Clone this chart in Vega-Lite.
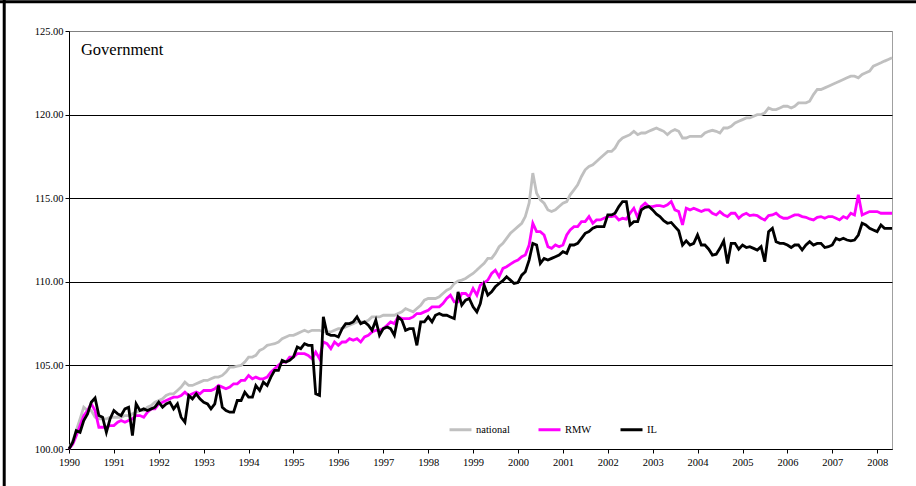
{
"$schema": "https://vega.github.io/schema/vega-lite/v6.json",
"width": 823, "height": 418,
"autosize": {"type": "none"},
"padding": {"left": 69, "top": 31, "right": 24, "bottom": 37},
"background": "white",
"config": {"font": "Liberation Serif, Times New Roman, serif", "view": {"stroke": "#A0A0A0", "strokeWidth": 1}},
"layer": [
{"data": {"values": [{}]},
 "mark": {"type": "rule", "color": "#000", "strokeWidth": 3},
 "encoding": {
  "x": {"datum": {"year": 1988, "month": 7, "date": 23, "utc": true}, "type": "temporal", "scale": {"type": "utc", "domain": [{"year": 1990, "month": 1, "date": 1, "utc": true}, {"year": 2008, "month": 5, "date": 1, "utc": true}]}},
  "y": {"datum": 130, "type": "quantitative", "scale": {"domain": [100, 125], "nice": false, "zero": false}},
  "y2": {"datum": 95}}},
{"data": {"values": [{}]},
 "mark": {"type": "rule", "color": "#000", "strokeWidth": 3},
 "encoding": {
  "x": {"datum": {"year": 1985, "month": 1, "date": 1, "utc": true}, "type": "temporal"},
  "x2": {"datum": {"year": 2012, "month": 1, "date": 1, "utc": true}},
  "y": {"datum": 126.75, "type": "quantitative"}}},
{"data": {"values": [
{"date":"1990-01","series":"national","value":100},{"date":"1990-02","series":"national","value":100.5},{"date":"1990-03","series":"national","value":101.1},{"date":"1990-04","series":"national","value":101.8},{"date":"1990-05","series":"national","value":102.5},{"date":"1990-06","series":"national","value":102.3},{"date":"1990-07","series":"national","value":102.3},{"date":"1990-08","series":"national","value":101.9},{"date":"1990-09","series":"national","value":101.8},{"date":"1990-10","series":"national","value":101.8},{"date":"1990-11","series":"national","value":101.8},{"date":"1990-12","series":"national","value":101.9},
{"date":"1991-01","series":"national","value":101.9},{"date":"1991-02","series":"national","value":101.9},{"date":"1991-03","series":"national","value":101.9},{"date":"1991-04","series":"national","value":102.0},{"date":"1991-05","series":"national","value":102.0},{"date":"1991-06","series":"national","value":102.1},{"date":"1991-07","series":"national","value":102.2},{"date":"1991-08","series":"national","value":102.3},{"date":"1991-09","series":"national","value":102.3},{"date":"1991-10","series":"national","value":102.5},{"date":"1991-11","series":"national","value":102.6},{"date":"1991-12","series":"national","value":102.8},
{"date":"1992-01","series":"national","value":102.9},{"date":"1992-02","series":"national","value":103.0},{"date":"1992-03","series":"national","value":103.2},{"date":"1992-04","series":"national","value":103.3},{"date":"1992-05","series":"national","value":103.3},{"date":"1992-06","series":"national","value":103.5},{"date":"1992-07","series":"national","value":103.7},{"date":"1992-08","series":"national","value":104.0},{"date":"1992-09","series":"national","value":103.8},{"date":"1992-10","series":"national","value":103.8},{"date":"1992-11","series":"national","value":103.9},{"date":"1992-12","series":"national","value":104.0},
{"date":"1993-01","series":"national","value":104.1},{"date":"1993-02","series":"national","value":104.1},{"date":"1993-03","series":"national","value":104.2},{"date":"1993-04","series":"national","value":104.3},{"date":"1993-05","series":"national","value":104.3},{"date":"1993-06","series":"national","value":104.4},{"date":"1993-07","series":"national","value":104.6},{"date":"1993-08","series":"national","value":104.9},{"date":"1993-09","series":"national","value":104.9},{"date":"1993-10","series":"national","value":104.95},{"date":"1993-11","series":"national","value":105.0},{"date":"1993-12","series":"national","value":105.2},
{"date":"1994-01","series":"national","value":105.5},{"date":"1994-02","series":"national","value":105.5},{"date":"1994-03","series":"national","value":105.6},{"date":"1994-04","series":"national","value":105.9},{"date":"1994-05","series":"national","value":106.0},{"date":"1994-06","series":"national","value":106.2},{"date":"1994-07","series":"national","value":106.25},{"date":"1994-08","series":"national","value":106.3},{"date":"1994-09","series":"national","value":106.4},{"date":"1994-10","series":"national","value":106.6},{"date":"1994-11","series":"national","value":106.7},{"date":"1994-12","series":"national","value":106.8},
{"date":"1995-01","series":"national","value":106.8},{"date":"1995-02","series":"national","value":106.9},{"date":"1995-03","series":"national","value":107.0},{"date":"1995-04","series":"national","value":107.1},{"date":"1995-05","series":"national","value":107.0},{"date":"1995-06","series":"national","value":107.1},{"date":"1995-07","series":"national","value":107.1},{"date":"1995-08","series":"national","value":107.1},{"date":"1995-09","series":"national","value":107.0},{"date":"1995-10","series":"national","value":107.0},{"date":"1995-11","series":"national","value":107.0},{"date":"1995-12","series":"national","value":107.1},
{"date":"1996-01","series":"national","value":107.2},{"date":"1996-02","series":"national","value":107.2},{"date":"1996-03","series":"national","value":107.3},{"date":"1996-04","series":"national","value":107.4},{"date":"1996-05","series":"national","value":107.5},{"date":"1996-06","series":"national","value":107.6},{"date":"1996-07","series":"national","value":107.6},{"date":"1996-08","series":"national","value":107.6},{"date":"1996-09","series":"national","value":107.7},{"date":"1996-10","series":"national","value":107.9},{"date":"1996-11","series":"national","value":107.9},{"date":"1996-12","series":"national","value":107.9},
{"date":"1997-01","series":"national","value":108.0},{"date":"1997-02","series":"national","value":108.0},{"date":"1997-03","series":"national","value":108.0},{"date":"1997-04","series":"national","value":108.0},{"date":"1997-05","series":"national","value":108.1},{"date":"1997-06","series":"national","value":108.2},{"date":"1997-07","series":"national","value":108.4},{"date":"1997-08","series":"national","value":108.3},{"date":"1997-09","series":"national","value":108.2},{"date":"1997-10","series":"national","value":108.4},{"date":"1997-11","series":"national","value":108.6},{"date":"1997-12","series":"national","value":108.9},
{"date":"1998-01","series":"national","value":109.0},{"date":"1998-02","series":"national","value":109.0},{"date":"1998-03","series":"national","value":109.0},{"date":"1998-04","series":"national","value":109.1},{"date":"1998-05","series":"national","value":109.3},{"date":"1998-06","series":"national","value":109.5},{"date":"1998-07","series":"national","value":109.6},{"date":"1998-08","series":"national","value":109.9},{"date":"1998-09","series":"national","value":110.05},{"date":"1998-10","series":"national","value":110.1},{"date":"1998-11","series":"national","value":110.2},{"date":"1998-12","series":"national","value":110.35},
{"date":"1999-01","series":"national","value":110.5},{"date":"1999-02","series":"national","value":110.7},{"date":"1999-03","series":"national","value":110.9},{"date":"1999-04","series":"national","value":111.1},{"date":"1999-05","series":"national","value":111.4},{"date":"1999-06","series":"national","value":111.4},{"date":"1999-07","series":"national","value":111.7},{"date":"1999-08","series":"national","value":112.1},{"date":"1999-09","series":"national","value":112.3},{"date":"1999-10","series":"national","value":112.6},{"date":"1999-11","series":"national","value":112.9},{"date":"1999-12","series":"national","value":113.1},
{"date":"2000-01","series":"national","value":113.3},{"date":"2000-02","series":"national","value":113.5},{"date":"2000-03","series":"national","value":113.9},{"date":"2000-04","series":"national","value":114.7},{"date":"2000-05","series":"national","value":116.5},{"date":"2000-06","series":"national","value":115.3},{"date":"2000-07","series":"national","value":114.9},{"date":"2000-08","series":"national","value":114.7},{"date":"2000-09","series":"national","value":114.3},{"date":"2000-10","series":"national","value":114.2},{"date":"2000-11","series":"national","value":114.3},{"date":"2000-12","series":"national","value":114.5},
{"date":"2001-01","series":"national","value":114.7},{"date":"2001-02","series":"national","value":114.8},{"date":"2001-03","series":"national","value":115.2},{"date":"2001-04","series":"national","value":115.5},{"date":"2001-05","series":"national","value":115.8},{"date":"2001-06","series":"national","value":116.3},{"date":"2001-07","series":"national","value":116.7},{"date":"2001-08","series":"national","value":116.9},{"date":"2001-09","series":"national","value":117.0},{"date":"2001-10","series":"national","value":117.2},{"date":"2001-11","series":"national","value":117.4},{"date":"2001-12","series":"national","value":117.6},
{"date":"2002-01","series":"national","value":117.8},{"date":"2002-02","series":"national","value":117.8},{"date":"2002-03","series":"national","value":118.0},{"date":"2002-04","series":"national","value":118.4},{"date":"2002-05","series":"national","value":118.6},{"date":"2002-06","series":"national","value":118.7},{"date":"2002-07","series":"national","value":118.8},{"date":"2002-08","series":"national","value":119.0},{"date":"2002-09","series":"national","value":118.8},{"date":"2002-10","series":"national","value":118.9},{"date":"2002-11","series":"national","value":118.9},{"date":"2002-12","series":"national","value":119.0},
{"date":"2003-01","series":"national","value":119.1},{"date":"2003-02","series":"national","value":119.2},{"date":"2003-03","series":"national","value":119.1},{"date":"2003-04","series":"national","value":119.0},{"date":"2003-05","series":"national","value":118.8},{"date":"2003-06","series":"national","value":119.0},{"date":"2003-07","series":"national","value":119.1},{"date":"2003-08","series":"national","value":119.0},{"date":"2003-09","series":"national","value":118.6},{"date":"2003-10","series":"national","value":118.6},{"date":"2003-11","series":"national","value":118.7},{"date":"2003-12","series":"national","value":118.7},
{"date":"2004-01","series":"national","value":118.7},{"date":"2004-02","series":"national","value":118.7},{"date":"2004-03","series":"national","value":118.9},{"date":"2004-04","series":"national","value":119.0},{"date":"2004-05","series":"national","value":119.06},{"date":"2004-06","series":"national","value":119.0},{"date":"2004-07","series":"national","value":118.9},{"date":"2004-08","series":"national","value":119.2},{"date":"2004-09","series":"national","value":119.2},{"date":"2004-10","series":"national","value":119.3},{"date":"2004-11","series":"national","value":119.5},{"date":"2004-12","series":"national","value":119.6},
{"date":"2005-01","series":"national","value":119.7},{"date":"2005-02","series":"national","value":119.8},{"date":"2005-03","series":"national","value":119.8},{"date":"2005-04","series":"national","value":119.9},{"date":"2005-05","series":"national","value":120.0},{"date":"2005-06","series":"national","value":120.0},{"date":"2005-07","series":"national","value":120.1},{"date":"2005-08","series":"national","value":120.4},{"date":"2005-09","series":"national","value":120.3},{"date":"2005-10","series":"national","value":120.3},{"date":"2005-11","series":"national","value":120.4},{"date":"2005-12","series":"national","value":120.5},
{"date":"2006-01","series":"national","value":120.5},{"date":"2006-02","series":"national","value":120.4},{"date":"2006-03","series":"national","value":120.5},{"date":"2006-04","series":"national","value":120.7},{"date":"2006-05","series":"national","value":120.7},{"date":"2006-06","series":"national","value":120.7},{"date":"2006-07","series":"national","value":120.8},{"date":"2006-08","series":"national","value":121.2},{"date":"2006-09","series":"national","value":121.5},{"date":"2006-10","series":"national","value":121.5},{"date":"2006-11","series":"national","value":121.6},{"date":"2006-12","series":"national","value":121.7},
{"date":"2007-01","series":"national","value":121.8},{"date":"2007-02","series":"national","value":121.9},{"date":"2007-03","series":"national","value":122.0},{"date":"2007-04","series":"national","value":122.1},{"date":"2007-05","series":"national","value":122.2},{"date":"2007-06","series":"national","value":122.3},{"date":"2007-07","series":"national","value":122.3},{"date":"2007-08","series":"national","value":122.2},{"date":"2007-09","series":"national","value":122.4},{"date":"2007-10","series":"national","value":122.5},{"date":"2007-11","series":"national","value":122.6},{"date":"2007-12","series":"national","value":122.9},
{"date":"2008-01","series":"national","value":123.0},{"date":"2008-02","series":"national","value":123.1},{"date":"2008-03","series":"national","value":123.2},{"date":"2008-04","series":"national","value":123.3},{"date":"2008-05","series":"national","value":123.4},
{"date":"1990-01","series":"RMW","value":100},{"date":"1990-02","series":"RMW","value":100.3},{"date":"1990-03","series":"RMW","value":100.8},{"date":"1990-04","series":"RMW","value":101.4},{"date":"1990-05","series":"RMW","value":102.0},{"date":"1990-06","series":"RMW","value":102.3},{"date":"1990-07","series":"RMW","value":102.7},{"date":"1990-08","series":"RMW","value":102.3},{"date":"1990-09","series":"RMW","value":101.3},{"date":"1990-10","series":"RMW","value":101.3},{"date":"1990-11","series":"RMW","value":101.3},{"date":"1990-12","series":"RMW","value":101.4},
{"date":"1991-01","series":"RMW","value":101.4},{"date":"1991-02","series":"RMW","value":101.6},{"date":"1991-03","series":"RMW","value":101.7},{"date":"1991-04","series":"RMW","value":101.6},{"date":"1991-05","series":"RMW","value":101.7},{"date":"1991-06","series":"RMW","value":101.8},{"date":"1991-07","series":"RMW","value":102.0},{"date":"1991-08","series":"RMW","value":102.0},{"date":"1991-09","series":"RMW","value":101.9},{"date":"1991-10","series":"RMW","value":102.2},{"date":"1991-11","series":"RMW","value":102.4},{"date":"1991-12","series":"RMW","value":102.4},
{"date":"1992-01","series":"RMW","value":102.7},{"date":"1992-02","series":"RMW","value":102.8},{"date":"1992-03","series":"RMW","value":102.9},{"date":"1992-04","series":"RMW","value":103.0},{"date":"1992-05","series":"RMW","value":103.1},{"date":"1992-06","series":"RMW","value":103.1},{"date":"1992-07","series":"RMW","value":103.2},{"date":"1992-08","series":"RMW","value":103.4},{"date":"1992-09","series":"RMW","value":103.2},{"date":"1992-10","series":"RMW","value":103.3},{"date":"1992-11","series":"RMW","value":103.4},{"date":"1992-12","series":"RMW","value":103.3},
{"date":"1993-01","series":"RMW","value":103.5},{"date":"1993-02","series":"RMW","value":103.5},{"date":"1993-03","series":"RMW","value":103.5},{"date":"1993-04","series":"RMW","value":103.6},{"date":"1993-05","series":"RMW","value":103.8},{"date":"1993-06","series":"RMW","value":103.7},{"date":"1993-07","series":"RMW","value":103.6},{"date":"1993-08","series":"RMW","value":103.7},{"date":"1993-09","series":"RMW","value":103.9},{"date":"1993-10","series":"RMW","value":103.9},{"date":"1993-11","series":"RMW","value":104.1},{"date":"1993-12","series":"RMW","value":104.1},
{"date":"1994-01","series":"RMW","value":104.4},{"date":"1994-02","series":"RMW","value":104.2},{"date":"1994-03","series":"RMW","value":104.3},{"date":"1994-04","series":"RMW","value":104.2},{"date":"1994-05","series":"RMW","value":104.2},{"date":"1994-06","series":"RMW","value":104.3},{"date":"1994-07","series":"RMW","value":104.6},{"date":"1994-08","series":"RMW","value":104.8},{"date":"1994-09","series":"RMW","value":105.0},{"date":"1994-10","series":"RMW","value":105.2},{"date":"1994-11","series":"RMW","value":105.2},{"date":"1994-12","series":"RMW","value":105.5},
{"date":"1995-01","series":"RMW","value":105.5},{"date":"1995-02","series":"RMW","value":105.7},{"date":"1995-03","series":"RMW","value":105.7},{"date":"1995-04","series":"RMW","value":105.7},{"date":"1995-05","series":"RMW","value":105.6},{"date":"1995-06","series":"RMW","value":105.4},{"date":"1995-07","series":"RMW","value":105.8},{"date":"1995-08","series":"RMW","value":105.4},{"date":"1995-09","series":"RMW","value":106.4},{"date":"1995-10","series":"RMW","value":106.3},{"date":"1995-11","series":"RMW","value":106.0},{"date":"1995-12","series":"RMW","value":106.4},
{"date":"1996-01","series":"RMW","value":106.2},{"date":"1996-02","series":"RMW","value":106.4},{"date":"1996-03","series":"RMW","value":106.4},{"date":"1996-04","series":"RMW","value":106.6},{"date":"1996-05","series":"RMW","value":106.5},{"date":"1996-06","series":"RMW","value":106.6},{"date":"1996-07","series":"RMW","value":106.4},{"date":"1996-08","series":"RMW","value":106.7},{"date":"1996-09","series":"RMW","value":106.8},{"date":"1996-10","series":"RMW","value":107.0},{"date":"1996-11","series":"RMW","value":107.1},{"date":"1996-12","series":"RMW","value":107.1},
{"date":"1997-01","series":"RMW","value":107.2},{"date":"1997-02","series":"RMW","value":107.4},{"date":"1997-03","series":"RMW","value":107.6},{"date":"1997-04","series":"RMW","value":107.5},{"date":"1997-05","series":"RMW","value":107.9},{"date":"1997-06","series":"RMW","value":107.8},{"date":"1997-07","series":"RMW","value":107.8},{"date":"1997-08","series":"RMW","value":107.8},{"date":"1997-09","series":"RMW","value":107.9},{"date":"1997-10","series":"RMW","value":108.1},{"date":"1997-11","series":"RMW","value":108.1},{"date":"1997-12","series":"RMW","value":108.2},
{"date":"1998-01","series":"RMW","value":108.3},{"date":"1998-02","series":"RMW","value":108.5},{"date":"1998-03","series":"RMW","value":108.5},{"date":"1998-04","series":"RMW","value":108.5},{"date":"1998-05","series":"RMW","value":108.7},{"date":"1998-06","series":"RMW","value":109.0},{"date":"1998-07","series":"RMW","value":109.2},{"date":"1998-08","series":"RMW","value":108.8},{"date":"1998-09","series":"RMW","value":108.8},{"date":"1998-10","series":"RMW","value":109.3},{"date":"1998-11","series":"RMW","value":109.3},{"date":"1998-12","series":"RMW","value":109.1},
{"date":"1999-01","series":"RMW","value":109.6},{"date":"1999-02","series":"RMW","value":109.2},{"date":"1999-03","series":"RMW","value":109.8},{"date":"1999-04","series":"RMW","value":109.95},{"date":"1999-05","series":"RMW","value":110.1},{"date":"1999-06","series":"RMW","value":110.5},{"date":"1999-07","series":"RMW","value":110.7},{"date":"1999-08","series":"RMW","value":110.3},{"date":"1999-09","series":"RMW","value":110.8},{"date":"1999-10","series":"RMW","value":110.9},{"date":"1999-11","series":"RMW","value":111.06},{"date":"1999-12","series":"RMW","value":111.2},
{"date":"2000-01","series":"RMW","value":111.3},{"date":"2000-02","series":"RMW","value":111.5},{"date":"2000-03","series":"RMW","value":111.6},{"date":"2000-04","series":"RMW","value":112.2},{"date":"2000-05","series":"RMW","value":113.5},{"date":"2000-06","series":"RMW","value":113.0},{"date":"2000-07","series":"RMW","value":113.0},{"date":"2000-08","series":"RMW","value":112.8},{"date":"2000-09","series":"RMW","value":112.1},{"date":"2000-10","series":"RMW","value":112.0},{"date":"2000-11","series":"RMW","value":112.2},{"date":"2000-12","series":"RMW","value":112.1},
{"date":"2001-01","series":"RMW","value":112.2},{"date":"2001-02","series":"RMW","value":112.8},{"date":"2001-03","series":"RMW","value":113.1},{"date":"2001-04","series":"RMW","value":113.3},{"date":"2001-05","series":"RMW","value":113.3},{"date":"2001-06","series":"RMW","value":113.6},{"date":"2001-07","series":"RMW","value":113.6},{"date":"2001-08","series":"RMW","value":113.9},{"date":"2001-09","series":"RMW","value":113.5},{"date":"2001-10","series":"RMW","value":113.7},{"date":"2001-11","series":"RMW","value":113.7},{"date":"2001-12","series":"RMW","value":113.8},
{"date":"2002-01","series":"RMW","value":113.9},{"date":"2002-02","series":"RMW","value":113.9},{"date":"2002-03","series":"RMW","value":113.95},{"date":"2002-04","series":"RMW","value":113.7},{"date":"2002-05","series":"RMW","value":113.8},{"date":"2002-06","series":"RMW","value":113.75},{"date":"2002-07","series":"RMW","value":114.1},{"date":"2002-08","series":"RMW","value":114.4},{"date":"2002-09","series":"RMW","value":113.85},{"date":"2002-10","series":"RMW","value":114.5},{"date":"2002-11","series":"RMW","value":114.7},{"date":"2002-12","series":"RMW","value":114.5},
{"date":"2003-01","series":"RMW","value":114.5},{"date":"2003-02","series":"RMW","value":114.55},{"date":"2003-03","series":"RMW","value":114.55},{"date":"2003-04","series":"RMW","value":114.5},{"date":"2003-05","series":"RMW","value":114.6},{"date":"2003-06","series":"RMW","value":114.8},{"date":"2003-07","series":"RMW","value":114.3},{"date":"2003-08","series":"RMW","value":114.2},{"date":"2003-09","series":"RMW","value":113.4},{"date":"2003-10","series":"RMW","value":114.4},{"date":"2003-11","series":"RMW","value":114.3},{"date":"2003-12","series":"RMW","value":114.4},
{"date":"2004-01","series":"RMW","value":114.3},{"date":"2004-02","series":"RMW","value":114.2},{"date":"2004-03","series":"RMW","value":114.3},{"date":"2004-04","series":"RMW","value":114.3},{"date":"2004-05","series":"RMW","value":114.1},{"date":"2004-06","series":"RMW","value":114.0},{"date":"2004-07","series":"RMW","value":114.2},{"date":"2004-08","series":"RMW","value":114.0},{"date":"2004-09","series":"RMW","value":113.9},{"date":"2004-10","series":"RMW","value":114.1},{"date":"2004-11","series":"RMW","value":114.1},{"date":"2004-12","series":"RMW","value":113.8},
{"date":"2005-01","series":"RMW","value":114.0},{"date":"2005-02","series":"RMW","value":114.1},{"date":"2005-03","series":"RMW","value":113.96},{"date":"2005-04","series":"RMW","value":114.0},{"date":"2005-05","series":"RMW","value":113.96},{"date":"2005-06","series":"RMW","value":113.8},{"date":"2005-07","series":"RMW","value":113.7},{"date":"2005-08","series":"RMW","value":113.96},{"date":"2005-09","series":"RMW","value":114.0},{"date":"2005-10","series":"RMW","value":114.1},{"date":"2005-11","series":"RMW","value":113.9},{"date":"2005-12","series":"RMW","value":113.8},
{"date":"2006-01","series":"RMW","value":113.8},{"date":"2006-02","series":"RMW","value":113.9},{"date":"2006-03","series":"RMW","value":114.0},{"date":"2006-04","series":"RMW","value":114.0},{"date":"2006-05","series":"RMW","value":113.9},{"date":"2006-06","series":"RMW","value":113.86},{"date":"2006-07","series":"RMW","value":113.76},{"date":"2006-08","series":"RMW","value":113.7},{"date":"2006-09","series":"RMW","value":113.86},{"date":"2006-10","series":"RMW","value":113.9},{"date":"2006-11","series":"RMW","value":113.8},{"date":"2006-12","series":"RMW","value":113.9},
{"date":"2007-01","series":"RMW","value":113.9},{"date":"2007-02","series":"RMW","value":113.8},{"date":"2007-03","series":"RMW","value":113.7},{"date":"2007-04","series":"RMW","value":113.9},{"date":"2007-05","series":"RMW","value":113.8},{"date":"2007-06","series":"RMW","value":114.1},{"date":"2007-07","series":"RMW","value":114.0},{"date":"2007-08","series":"RMW","value":115.2},{"date":"2007-09","series":"RMW","value":114.0},{"date":"2007-10","series":"RMW","value":114.1},{"date":"2007-11","series":"RMW","value":114.2},{"date":"2007-12","series":"RMW","value":114.2},
{"date":"2008-01","series":"RMW","value":114.2},{"date":"2008-02","series":"RMW","value":114.1},{"date":"2008-03","series":"RMW","value":114.1},{"date":"2008-04","series":"RMW","value":114.1},{"date":"2008-05","series":"RMW","value":114.1},
{"date":"1990-01","series":"IL","value":100},{"date":"1990-02","series":"IL","value":100.4},{"date":"1990-03","series":"IL","value":101.1},{"date":"1990-04","series":"IL","value":101.0},{"date":"1990-05","series":"IL","value":101.7},{"date":"1990-06","series":"IL","value":102.1},{"date":"1990-07","series":"IL","value":102.8},{"date":"1990-08","series":"IL","value":103.05},{"date":"1990-09","series":"IL","value":102.0},{"date":"1990-10","series":"IL","value":101.9},{"date":"1990-11","series":"IL","value":101.0},{"date":"1990-12","series":"IL","value":101.8},
{"date":"1991-01","series":"IL","value":102.3},{"date":"1991-02","series":"IL","value":102.1},{"date":"1991-03","series":"IL","value":102.0},{"date":"1991-04","series":"IL","value":102.4},{"date":"1991-05","series":"IL","value":102.5},{"date":"1991-06","series":"IL","value":100.8},{"date":"1991-07","series":"IL","value":102.7},{"date":"1991-08","series":"IL","value":102.3},{"date":"1991-09","series":"IL","value":102.4},{"date":"1991-10","series":"IL","value":102.3},{"date":"1991-11","series":"IL","value":102.4},{"date":"1991-12","series":"IL","value":102.5},
{"date":"1992-01","series":"IL","value":102.8},{"date":"1992-02","series":"IL","value":102.5},{"date":"1992-03","series":"IL","value":102.7},{"date":"1992-04","series":"IL","value":102.8},{"date":"1992-05","series":"IL","value":102.4},{"date":"1992-06","series":"IL","value":102.7},{"date":"1992-07","series":"IL","value":101.9},{"date":"1992-08","series":"IL","value":101.6},{"date":"1992-09","series":"IL","value":103.2},{"date":"1992-10","series":"IL","value":103.0},{"date":"1992-11","series":"IL","value":103.3},{"date":"1992-12","series":"IL","value":103.0},
{"date":"1993-01","series":"IL","value":102.8},{"date":"1993-02","series":"IL","value":102.7},{"date":"1993-03","series":"IL","value":102.4},{"date":"1993-04","series":"IL","value":102.7},{"date":"1993-05","series":"IL","value":103.8},{"date":"1993-06","series":"IL","value":102.5},{"date":"1993-07","series":"IL","value":102.3},{"date":"1993-08","series":"IL","value":102.2},{"date":"1993-09","series":"IL","value":102.2},{"date":"1993-10","series":"IL","value":102.9},{"date":"1993-11","series":"IL","value":102.9},{"date":"1993-12","series":"IL","value":103.4},
{"date":"1994-01","series":"IL","value":103.1},{"date":"1994-02","series":"IL","value":103.1},{"date":"1994-03","series":"IL","value":103.8},{"date":"1994-04","series":"IL","value":103.5},{"date":"1994-05","series":"IL","value":104.0},{"date":"1994-06","series":"IL","value":103.8},{"date":"1994-07","series":"IL","value":104.3},{"date":"1994-08","series":"IL","value":104.7},{"date":"1994-09","series":"IL","value":104.7},{"date":"1994-10","series":"IL","value":105.3},{"date":"1994-11","series":"IL","value":105.2},{"date":"1994-12","series":"IL","value":105.3},
{"date":"1995-01","series":"IL","value":105.5},{"date":"1995-02","series":"IL","value":106.1},{"date":"1995-03","series":"IL","value":106.0},{"date":"1995-04","series":"IL","value":106.3},{"date":"1995-05","series":"IL","value":106.2},{"date":"1995-06","series":"IL","value":106.2},{"date":"1995-07","series":"IL","value":103.3},{"date":"1995-08","series":"IL","value":103.2},{"date":"1995-09","series":"IL","value":107.9},{"date":"1995-10","series":"IL","value":106.9},{"date":"1995-11","series":"IL","value":106.8},{"date":"1995-12","series":"IL","value":106.8},
{"date":"1996-01","series":"IL","value":106.7},{"date":"1996-02","series":"IL","value":107.2},{"date":"1996-03","series":"IL","value":107.5},{"date":"1996-04","series":"IL","value":107.5},{"date":"1996-05","series":"IL","value":107.6},{"date":"1996-06","series":"IL","value":107.9},{"date":"1996-07","series":"IL","value":107.5},{"date":"1996-08","series":"IL","value":107.6},{"date":"1996-09","series":"IL","value":107.4},{"date":"1996-10","series":"IL","value":107.1},{"date":"1996-11","series":"IL","value":107.7},{"date":"1996-12","series":"IL","value":106.8},
{"date":"1997-01","series":"IL","value":107.2},{"date":"1997-02","series":"IL","value":107.3},{"date":"1997-03","series":"IL","value":107.2},{"date":"1997-04","series":"IL","value":106.8},{"date":"1997-05","series":"IL","value":107.9},{"date":"1997-06","series":"IL","value":107.7},{"date":"1997-07","series":"IL","value":107.1},{"date":"1997-08","series":"IL","value":107.2},{"date":"1997-09","series":"IL","value":107.2},{"date":"1997-10","series":"IL","value":106.2},{"date":"1997-11","series":"IL","value":107.6},{"date":"1997-12","series":"IL","value":107.6},
{"date":"1998-01","series":"IL","value":107.9},{"date":"1998-02","series":"IL","value":107.6},{"date":"1998-03","series":"IL","value":108.0},{"date":"1998-04","series":"IL","value":108.1},{"date":"1998-05","series":"IL","value":108.0},{"date":"1998-06","series":"IL","value":108.0},{"date":"1998-07","series":"IL","value":107.9},{"date":"1998-08","series":"IL","value":107.8},{"date":"1998-09","series":"IL","value":109.4},{"date":"1998-10","series":"IL","value":108.6},{"date":"1998-11","series":"IL","value":108.9},{"date":"1998-12","series":"IL","value":109.0},
{"date":"1999-01","series":"IL","value":108.5},{"date":"1999-02","series":"IL","value":108.2},{"date":"1999-03","series":"IL","value":108.7},{"date":"1999-04","series":"IL","value":109.8},{"date":"1999-05","series":"IL","value":109.2},{"date":"1999-06","series":"IL","value":109.4},{"date":"1999-07","series":"IL","value":109.7},{"date":"1999-08","series":"IL","value":109.9},{"date":"1999-09","series":"IL","value":110.07},{"date":"1999-10","series":"IL","value":110.3},{"date":"1999-11","series":"IL","value":110.1},{"date":"1999-12","series":"IL","value":109.9},
{"date":"2000-01","series":"IL","value":109.95},{"date":"2000-02","series":"IL","value":110.4},{"date":"2000-03","series":"IL","value":110.6},{"date":"2000-04","series":"IL","value":111.3},{"date":"2000-05","series":"IL","value":112.3},{"date":"2000-06","series":"IL","value":112.2},{"date":"2000-07","series":"IL","value":111.1},{"date":"2000-08","series":"IL","value":111.4},{"date":"2000-09","series":"IL","value":111.3},{"date":"2000-10","series":"IL","value":111.4},{"date":"2000-11","series":"IL","value":111.5},{"date":"2000-12","series":"IL","value":111.6},
{"date":"2001-01","series":"IL","value":111.8},{"date":"2001-02","series":"IL","value":111.7},{"date":"2001-03","series":"IL","value":112.2},{"date":"2001-04","series":"IL","value":112.2},{"date":"2001-05","series":"IL","value":112.3},{"date":"2001-06","series":"IL","value":112.6},{"date":"2001-07","series":"IL","value":112.9},{"date":"2001-08","series":"IL","value":113.0},{"date":"2001-09","series":"IL","value":113.2},{"date":"2001-10","series":"IL","value":113.3},{"date":"2001-11","series":"IL","value":113.3},{"date":"2001-12","series":"IL","value":113.3},
{"date":"2002-01","series":"IL","value":114.0},{"date":"2002-02","series":"IL","value":114.0},{"date":"2002-03","series":"IL","value":114.1},{"date":"2002-04","series":"IL","value":114.5},{"date":"2002-05","series":"IL","value":114.8},{"date":"2002-06","series":"IL","value":114.8},{"date":"2002-07","series":"IL","value":113.4},{"date":"2002-08","series":"IL","value":113.6},{"date":"2002-09","series":"IL","value":113.6},{"date":"2002-10","series":"IL","value":114.3},{"date":"2002-11","series":"IL","value":114.45},{"date":"2002-12","series":"IL","value":114.5},
{"date":"2003-01","series":"IL","value":114.3},{"date":"2003-02","series":"IL","value":114.05},{"date":"2003-03","series":"IL","value":113.9},{"date":"2003-04","series":"IL","value":113.65},{"date":"2003-05","series":"IL","value":113.5},{"date":"2003-06","series":"IL","value":113.55},{"date":"2003-07","series":"IL","value":113.3},{"date":"2003-08","series":"IL","value":113.05},{"date":"2003-09","series":"IL","value":112.2},{"date":"2003-10","series":"IL","value":112.45},{"date":"2003-11","series":"IL","value":112.2},{"date":"2003-12","series":"IL","value":112.3},
{"date":"2004-01","series":"IL","value":112.8},{"date":"2004-02","series":"IL","value":112.2},{"date":"2004-03","series":"IL","value":112.2},{"date":"2004-04","series":"IL","value":111.95},{"date":"2004-05","series":"IL","value":111.6},{"date":"2004-06","series":"IL","value":111.65},{"date":"2004-07","series":"IL","value":112.0},{"date":"2004-08","series":"IL","value":112.45},{"date":"2004-09","series":"IL","value":111.1},{"date":"2004-10","series":"IL","value":112.3},{"date":"2004-11","series":"IL","value":112.3},{"date":"2004-12","series":"IL","value":111.95},
{"date":"2005-01","series":"IL","value":112.2},{"date":"2005-02","series":"IL","value":112.05},{"date":"2005-03","series":"IL","value":112.1},{"date":"2005-04","series":"IL","value":112.0},{"date":"2005-05","series":"IL","value":111.9},{"date":"2005-06","series":"IL","value":112.1},{"date":"2005-07","series":"IL","value":111.2},{"date":"2005-08","series":"IL","value":113.0},{"date":"2005-09","series":"IL","value":113.2},{"date":"2005-10","series":"IL","value":112.4},{"date":"2005-11","series":"IL","value":112.3},{"date":"2005-12","series":"IL","value":112.3},
{"date":"2006-01","series":"IL","value":112.2},{"date":"2006-02","series":"IL","value":112.05},{"date":"2006-03","series":"IL","value":112.2},{"date":"2006-04","series":"IL","value":112.2},{"date":"2006-05","series":"IL","value":111.9},{"date":"2006-06","series":"IL","value":112.2},{"date":"2006-07","series":"IL","value":112.4},{"date":"2006-08","series":"IL","value":112.2},{"date":"2006-09","series":"IL","value":112.3},{"date":"2006-10","series":"IL","value":112.3},{"date":"2006-11","series":"IL","value":112.05},{"date":"2006-12","series":"IL","value":112.1},
{"date":"2007-01","series":"IL","value":112.2},{"date":"2007-02","series":"IL","value":112.6},{"date":"2007-03","series":"IL","value":112.5},{"date":"2007-04","series":"IL","value":112.6},{"date":"2007-05","series":"IL","value":112.5},{"date":"2007-06","series":"IL","value":112.45},{"date":"2007-07","series":"IL","value":112.5},{"date":"2007-08","series":"IL","value":112.8},{"date":"2007-09","series":"IL","value":113.5},{"date":"2007-10","series":"IL","value":113.4},{"date":"2007-11","series":"IL","value":113.2},{"date":"2007-12","series":"IL","value":113.1},
{"date":"2008-01","series":"IL","value":113.0},{"date":"2008-02","series":"IL","value":113.4},{"date":"2008-03","series":"IL","value":113.2},{"date":"2008-04","series":"IL","value":113.2},{"date":"2008-05","series":"IL","value":113.2}
]},
 "mark": {"type": "line", "strokeWidth": 2.8},
 "encoding": {
  "x": {"field": "date", "type": "temporal",
   "scale": {"type": "utc", "domain": [{"year": 1990, "month": 1, "date": 1, "utc": true}, {"year": 2008, "month": 5, "date": 1, "utc": true}]},
   "axis": {"title": null, "format": "%Y", "formatType": "utc", "tickCount": {"interval": "year", "step": 1}, "grid": false, "domainColor": "#000", "tickColor": "#000", "tickSize": 4, "labelPadding": 4, "labelColor": "#000", "labelFont": "Liberation Serif, Times New Roman, serif", "labelFontSize": 10.5, "labelFlush": false, "labelOverlap": false}},
  "y": {"field": "value", "type": "quantitative",
   "scale": {"domain": [100, 125], "nice": false, "zero": false},
   "axis": {"title": null, "values": [100, 105, 110, 115, 120, 125], "format": ".2f", "grid": true, "gridColor": {"condition": {"test": "datum.value === 125", "value": "#808080"}, "value": "#000"}, "gridWidth": 1, "domainColor": "#000", "tickColor": "#000", "tickSize": 4, "labelPadding": 2, "labelColor": "#000", "labelFont": "Liberation Serif, Times New Roman, serif", "labelFontSize": 10.5}},
  "color": {"field": "series", "type": "nominal",
   "scale": {"domain": ["national", "RMW", "IL"], "range": ["#C0C0C0", "#FF00FF", "#000000"]},
   "legend": {"title": null, "orient": "none", "legendX": 379, "legendY": 386, "direction": "horizontal", "symbolType": "stroke", "symbolSize": 484, "symbolStrokeWidth": 3, "labelFontSize": 10.5, "labelFont": "Liberation Serif, Times New Roman, serif", "labelColor": "#000", "columnPadding": 22, "labelOffset": 3, "padding": 0}}
 }},
{"data": {"values": [{}]},
 "mark": {"type": "text", "align": "left", "baseline": "alphabetic", "fontSize": 16.5, "font": "Liberation Serif, Times New Roman, serif", "color": "#000"},
 "encoding": {
  "x": {"datum": {"year": 1990, "month": 4, "date": 8, "utc": true}, "type": "temporal"},
  "y": {"datum": 123.56, "type": "quantitative"},
  "text": {"value": "Government"}}}
]
}
